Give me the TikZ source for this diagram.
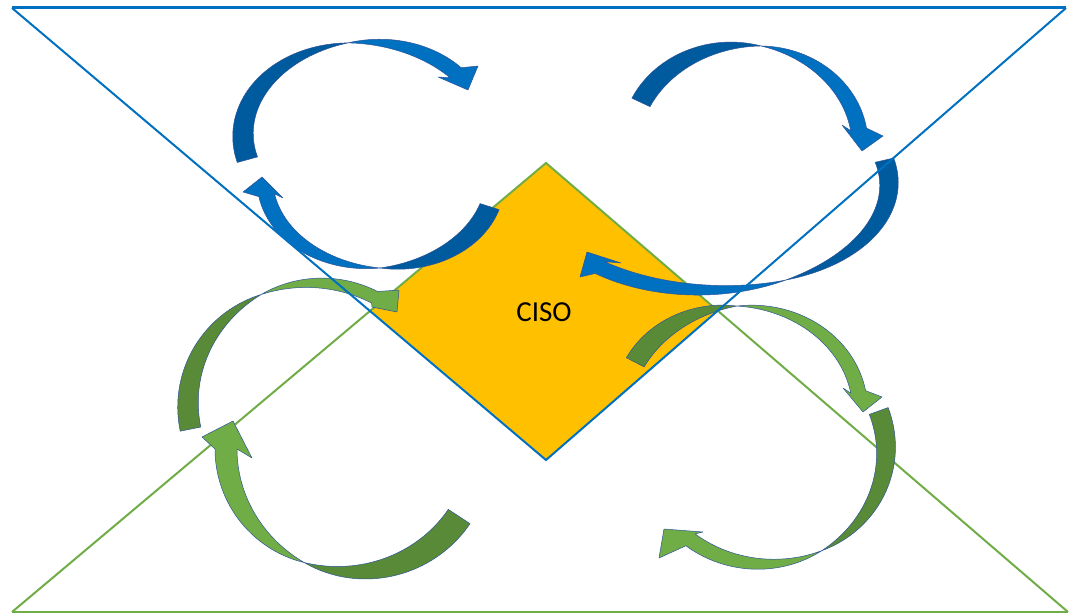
\documentclass[tikz,border=0pt]{standalone}
\usepackage{fontspec}
\setmainfont{Carlito}
\definecolor{lineblue}{HTML}{0070C0}
\definecolor{linegreen}{HTML}{70AD47}
\definecolor{bluelight}{HTML}{0070C0}
\definecolor{bluedark}{HTML}{005A9E}
\definecolor{greenlight}{HTML}{70AD47}
\definecolor{greendark}{HTML}{588A37}
\definecolor{arrowedge}{HTML}{2F5597}
\definecolor{cisofill}{HTML}{FFC000}

% ring-arrow geometry: centre, radii, start/twist/end angle, tail width, shaft width
\newcommand\RAset[9]{\def\RAcx{#1}\def\RAcy{#2}\def\RArx{#3}\def\RAry{#4}%
  \def\RAts{#5}\def\RAtm{#6}\def\RAte{#7}\def\RAwt{#8}\def\RAwh{#9}}
\newcommand\RAx[2]{\RAcx+(\RArx+(#2))*cos(#1)}
\newcommand\RAy[2]{\RAcy+(\RAry+(#2))*sin(#1)}
% fractional distance from the twist, then a rounded width profile
\def\RAsd{(((\RAtm)-\tv)/((\RAtm)-(\RAts)))}
\def\RAsl{((\tv-(\RAtm))/((\RAte)-(\RAtm)))}
\def\RAdd{0.5*\RAwt*\RAsd*(2-\RAsd)}
\def\RAdl{0.5*\RAwh*\RAsl*(2-\RAsl)}
% #1 dark colour, #2 light colour, #3 outer barb, #4 tip, #5 inner barb
\newcommand\RAdraw[5]{%
  \filldraw[fill=#1, arrowline]
    plot[domain=\RAts:\RAtm, samples=40, variable=\tv] ({\RAx{\tv}{\RAdd}},{\RAy{\tv}{\RAdd}})
    -- plot[domain=\RAtm:\RAts, samples=40, variable=\tv] ({\RAx{\tv}{-\RAdd}},{\RAy{\tv}{-\RAdd}})
    -- cycle;
  \filldraw[fill=#2, arrowline]
    plot[domain=\RAtm:\RAte, samples=40, variable=\tv] ({\RAx{\tv}{\RAdl}},{\RAy{\tv}{\RAdl}})
    -- #3 -- #4 -- #5
    -- plot[domain=\RAte:\RAtm, samples=40, variable=\tv] ({\RAx{\tv}{-\RAdl}},{\RAy{\tv}{-\RAdl}})
    -- cycle;
}

\begin{document}
\begin{tikzpicture}[x=1pt,y=-1pt,
  arrowline/.style={draw=arrowedge, line width=0.5pt, line join=round},
  blueline/.style={draw=lineblue, line width=2pt, line join=miter},
  greenline/.style={draw=linegreen, line width=2pt, line join=miter},
  label/.style={font=\fontsize{29}{34}\selectfont, text=black, inner sep=0pt}]
\useasboundingbox (0,0) rectangle (1072,615);
\fill[white] (0,0) rectangle (1072,615);

% triangle corners
\coordinate (bL) at (12,8);
\coordinate (bR) at (1066,8);
\coordinate (dB) at (546,460);
\coordinate (gL) at (12,612);
\coordinate (gR) at (1068,612);
\coordinate (dT) at (546,163);
\coordinate (dL) at (intersection of bL--dB and gL--dT);
\coordinate (dR) at (intersection of bR--dB and gR--dT);

% CISO diamond
\fill[cisofill] (dT) -- (dR) -- (dB) -- (dL) -- cycle;

% green triangle
\draw[greenline] (gL) -- (dT) -- (gR);
\draw[greenline, line width=2.4pt] (gL) -- (gR);

% blue arrows, upper left ring
\RAset{365}{135}{122}{93}{164.6}{262}{318}{21}{15}
\RAdraw{bluedark}{bluelight}{(478,66)}{(468,90)}{(438,77)}
\RAset{380}{180}{115}{88}{17.6}{90}{170}{20}{16}
\RAdraw{bluedark}{bluelight}{(243,192)}{(262,177)}{(283,198)}
% blue arrows, upper right ring
\RAset{745}{145}{115}{100}{205.2}{278}{351}{20}{16}
\RAdraw{bluedark}{bluelight}{(883,136)}{(862,151)}{(842,125)}
\RAset{710}{184}{179}{106}{-13}{65}{128}{19}{15}
\RAdraw{bluedark}{bluelight}{(580,277)}{(587,252)}{(621,263)}
% green arrows, lower left ring
\RAset{315}{405}{127}{122}{168.6}{245}{298}{21}{13}
\RAdraw{greendark}{greenlight}{(399,290)}{(397,312)}{(372,307)}
\RAset{353}{449}{127}{123}{33.3}{112.6}{180}{26}{22}
\RAdraw{greendark}{greenlight}{(202,437)}{(233,421)}{(252,458)}
% green arrows, lower right ring
\RAset{741}{410}{119}{104}{207.3}{268}{350}{20}{15}
\RAdraw{greendark}{greenlight}{(882,397)}{(863,412)}{(843,388)}
\RAset{765}{450}{121}{114}{-20}{62}{128}{20}{15}
\RAdraw{greendark}{greenlight}{(659,558)}{(664,529)}{(703,532)}

% blue triangle
\draw[blueline] (bR) -- (dB) -- (bL);
\draw[blueline, line width=3pt] (bL) -- (bR);

\node[label] (ciso) at (544,312) {CISO};
\end{tikzpicture}
\end{document}
